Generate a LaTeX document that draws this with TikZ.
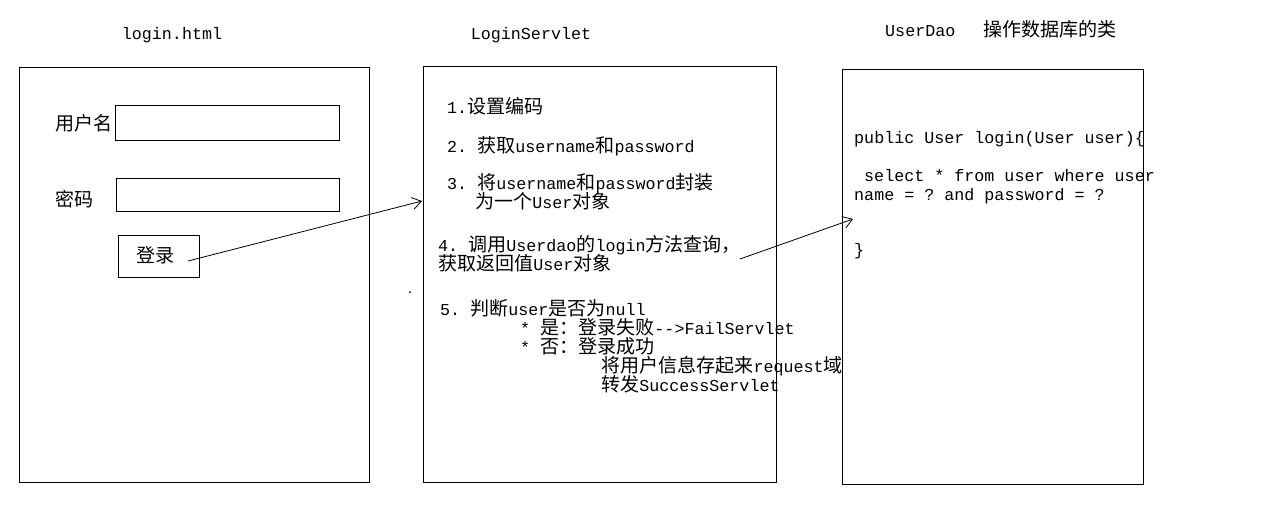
\documentclass[tikz,border=0pt]{standalone}
\usepackage{fontspec}
\setmonofont{Liberation Mono}
\newfontfamily\cjk{Noto Sans CJK SC}[Scale=1.14]
\usetikzlibrary{arrows.meta}
\newcommand\C[1]{{\cjk #1}}
\begin{document}
\begin{tikzpicture}[x=1pt,y=-1pt,
  font=\ttfamily\fontsize{16.7}{19}\selectfont,
  txt/.style={anchor=base west, inner sep=0pt},
  ttl/.style={anchor=base, inner sep=0pt},
  box/.style={draw, line width=1pt, inner sep=0pt},
  conn/.style={line width=0.8pt, -{Straight Barb[length=9pt,width=12pt]}}]
\useasboundingbox (0,0) rectangle (1282,520);
% titles
\node[ttl] (t1) at (172,39) {login.html};
\node[ttl] (t2) at (531,39) {LoginServlet};
\node[txt] (t3) at (885,36) {UserDao};
\node[txt] (t3b) at (983,36) {\C{操作数据库的类}};
% frames
\node[box, minimum width=350pt, minimum height=415pt, anchor=north west] (f1) at (19,67) {};
\node[box, minimum width=353pt, minimum height=416pt, anchor=north west] (f2) at (423,66) {};
\node[box, minimum width=301pt, minimum height=415pt, anchor=north west] (f3) at (842,69) {};
% login form
\node[txt] (lu) at (55,130) {\C{用户名}};
\node[box, minimum width=224pt, minimum height=35pt, anchor=north west] (iu) at (115,105) {};
\node[txt] (lp) at (55,206) {\C{密码}};
\node[box, minimum width=223pt, minimum height=33pt, anchor=north west] (ip) at (116,178) {};
\node[box, minimum width=81pt, minimum height=42pt, anchor=north west] (btn) at (118,235) {};
\node[txt] (bt) at (136,262) {\C{登录}};
% servlet text
\node[txt] (s1) at (447,113) {1.\C{设置编码}};
\node[txt] (s2) at (447,152) {2. \C{获取}username\C{和}password};
\node[txt] (s3) at (447,189) {3. \C{将}username\C{和}password\C{封装}};
\node[txt] (s3b) at (475,208) {\C{为一个}User\C{对象}};
\node[txt] (s4) at (438,251) {4. \C{调用}Userdao\C{的}login\C{方法查询，}};
\node[txt] (s4b) at (438,270) {\C{获取返回值}User\C{对象}};
\node[txt] (s5) at (440,315) {5. \C{判断}user\C{是否为}null};
\node[txt] (s5a) at (520,334) {* \C{是：登录失败}-{}->FailServlet};
\node[txt] (s5b) at (520,353) {* \C{否：登录成功}};
\node[txt] (s5c) at (601,372) {\C{将用户信息存起来}request\C{域}};
\node[txt] (s5d) at (601,391) {\C{转发}SuccessServlet};
% dao text
\node[txt] (d1) at (854,143) {public User login(User user)\{};
\node[txt] (d2) at (864,181) {select * from user where user};
\node[txt] (d3) at (854,200) {name = ? and password = ?};
\node[txt] (d4) at (854,255) {\}};
% stray dot
\fill (410,292) circle (1pt);
% connectors
\coordinate (a1s) at (188,261);
\coordinate (a1e) at (422,201);
\coordinate (a2s) at (740,259);
\coordinate (a2e) at (853,219);
\draw[conn] (a1s) -- (a1e);
\draw[conn] (a2s) -- (a2e);
\end{tikzpicture}
\end{document}
